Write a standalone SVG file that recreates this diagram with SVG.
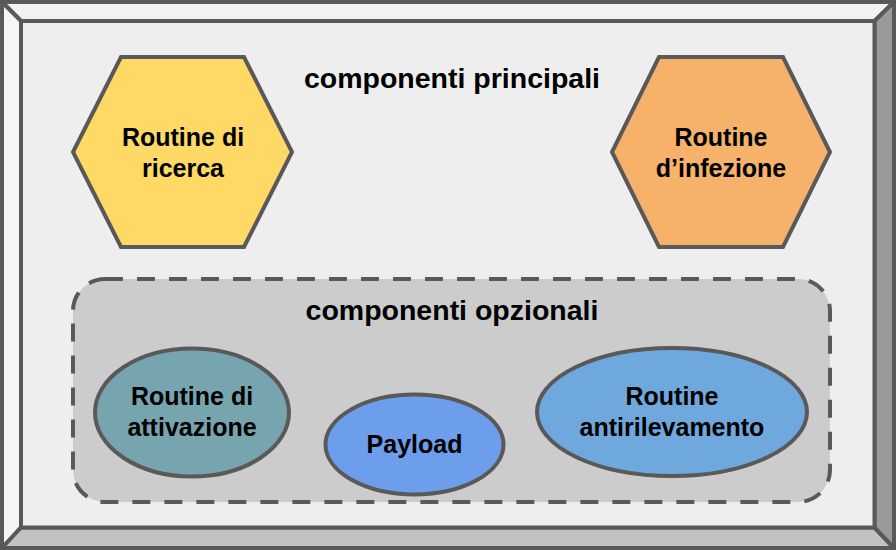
<svg xmlns="http://www.w3.org/2000/svg" width="896" height="550" viewBox="0 0 896 550">
  <style>
    .edge { stroke: #595959; stroke-width: 4; stroke-linejoin: miter; }
    .shape { stroke: #595959; stroke-width: 4; }
    .lbl { font-family: "Liberation Sans", Arial, sans-serif; font-weight: bold; font-size: 25px; fill: #000000; text-anchor: middle; }
    .ttl { font-family: "Liberation Sans", Arial, sans-serif; font-weight: bold; font-size: 28.5px; fill: #000000; text-anchor: middle; }
  </style>
  <g id="frame">
    <polygon class="edge" points="2,2 894,2 874.5,21 21,21" fill="#f2f2f2"/>
    <polygon class="edge" points="2,2 21,21 21,527.5 2,548" fill="#f5f5f5"/>
    <polygon class="edge" points="2,548 21,527.5 874.5,527.5 894,548" fill="#c2c2c2"/>
    <polygon class="edge" points="894,2 894,548 874.5,527.5 874.5,21" fill="#9a9a9a"/>
    <rect class="edge" x="21" y="21" width="853.5" height="506.5" fill="#eeeeee"/>
    <text class="ttl" x="452" y="88">componenti principali</text>
  </g>
  <g id="optional-group">
    <rect class="shape" x="73" y="279" width="757" height="223" rx="32" ry="32" fill="#cccccc" stroke-dasharray="18 14"/>
    <text class="ttl" x="452" y="320">componenti opzionali</text>
  </g>
  <g id="routine-ricerca">
    <polygon class="shape" points="121,57 244,57 292,152 244,247 121,247 73,152" fill="#ffd966"/>
    <text class="lbl" x="183" y="146">Routine di</text>
    <text class="lbl" x="183" y="177">ricerca</text>
  </g>
  <g id="routine-infezione">
    <polygon class="shape" points="659,57 783,57 830,152 783,247 659,247 612,152" fill="#f6b26b"/>
    <text class="lbl" x="721" y="146">Routine</text>
    <text class="lbl" x="721" y="177">d’infezione</text>
  </g>
  <g id="routine-attivazione">
    <ellipse class="shape" cx="192" cy="412.5" rx="97" ry="64" fill="#76a5af"/>
    <text class="lbl" x="192" y="405">Routine di</text>
    <text class="lbl" x="192" y="436">attivazione</text>
  </g>
  <g id="payload">
    <ellipse class="shape" cx="414.5" cy="444.5" rx="89" ry="50" fill="#6d9eeb"/>
    <text class="lbl" x="414.5" y="453">Payload</text>
  </g>
  <g id="routine-antirilevamento">
    <ellipse class="shape" cx="672" cy="412" rx="135" ry="64" fill="#6fa8dc"/>
    <text class="lbl" x="672" y="405">Routine</text>
    <text class="lbl" x="672" y="436">antirilevamento</text>
  </g>
  <g id="connectors"></g>
</svg>
